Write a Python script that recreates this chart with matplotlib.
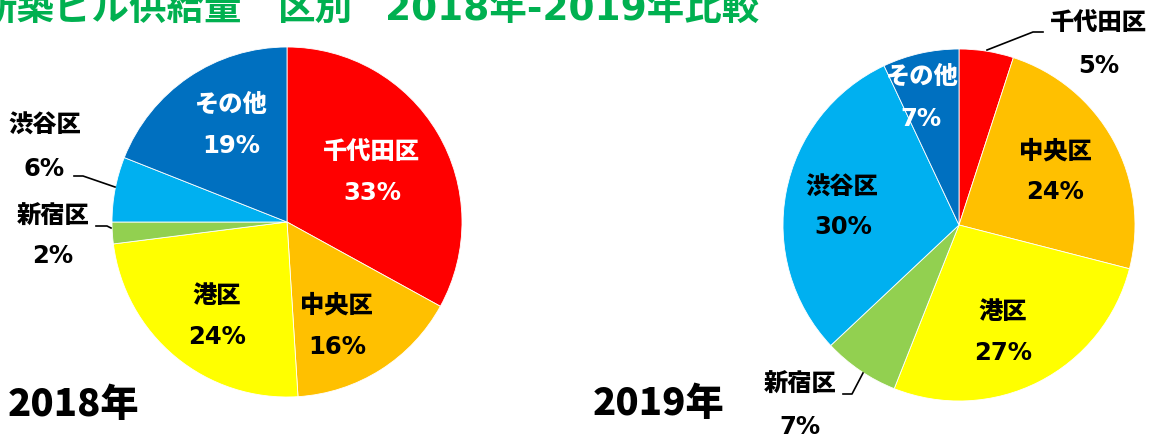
import matplotlib
matplotlib.use("Agg")
import matplotlib.pyplot as plt

# data
wards = ['千代田区', '中央区', '港区', '新宿区', '渋谷区', 'その他']
share_2018 = [33, 16, 24, 2, 6, 19]
share_2019 = [5, 24, 27, 7, 30, 7]
colors = ['#FF0000', '#FFC000', '#FFFF00', '#92D050', '#00B0F0', '#0070C0']
title_parts = ['新築ビル供給量', '区別', '2018年-2019年比較']

jp = 'Noto Sans CJK JP'
mixed = ['DejaVu Sans', jp]

fig = plt.figure(figsize=(11.52, 4.38), dpi=100)
ax = fig.add_axes([0, 0, 1, 1])

# pies drawn in pixel-like coordinates (y axis inverted below)
for vals, cx, cy, r in [(share_2018, 287, 222, 175), (share_2019, 959, 225, 176)]:
    ax.pie(vals, colors=colors, center=(cx, cy), radius=r,
           startangle=-90, counterclock=True,
           wedgeprops=dict(edgecolor='white', linewidth=0.6))

ax.set_xlim(0, 1152)
ax.set_ylim(438, 0)
ax.set_aspect('auto')
ax.axis('off')

# label placement (name centre, pct centre, text colour)
layout_2018 = {
    '千代田区': ((371, 152), (372, 193), 'white'),
    '中央区': ((336, 305), (337, 347), 'black'),
    '港区': ((217, 296), (217, 337), 'black'),
    '新宿区': ((53, 217), (53, 256), 'black'),
    '渋谷区': ((45, 125), (44, 169), 'black'),
    'その他': ((230, 105), (231, 146), 'white'),
}
layout_2019 = {
    '千代田区': ((1098, 23), (1099, 66), 'black'),
    '中央区': ((1055, 151), (1055, 192), 'black'),
    '港区': ((1003, 312), (1003, 353), 'black'),
    '新宿区': ((800, 385), (800, 427), 'black'),
    '渋谷区': ((842, 187), (843, 227), 'black'),
    'その他': ((921, 77), (921, 119), 'white'),
}

for vals, layout in [(share_2018, layout_2018), (share_2019, layout_2019)]:
    for name, v in zip(wards, vals):
        (nx, ny), (px, py), c = layout[name]
        ax.text(nx, ny, name, ha='center', va='center', color=c,
                fontsize=17.5, fontweight='heavy', family=jp)
        ax.text(px, py, f'{v}%', ha='center', va='center', color=c,
                fontsize=17.5, fontweight='bold', family=mixed)

# leader lines
leaders = [
    [(74, 176), (83, 176), (115, 187)],
    [(96, 226), (107, 226), (111, 228)],
    [(843, 394), (852, 394), (863, 373)],
    [(987, 50), (1033, 32), (1043, 32)],
]
for pts in leaders:
    xs, ys = zip(*pts)
    ax.plot(xs, ys, color='black', linewidth=1.2)

ax.text(74, 405, '2018年', ha='center', va='center', fontsize=27.5,
        fontweight='heavy', family=jp)
ax.text(659, 404, '2019年', ha='center', va='center', fontsize=27.5,
        fontweight='heavy', family=jp)

# title, cut off at the top/left like the source slide
for part, x, ha in zip(title_parts, [242, 278, 385], ['right', 'left', 'left']):
    ax.text(x, 20, part, ha=ha, va='baseline', color='#00B050',
            fontsize=27, fontweight='bold', family=mixed)

fig.savefig('out.png', dpi=100)
